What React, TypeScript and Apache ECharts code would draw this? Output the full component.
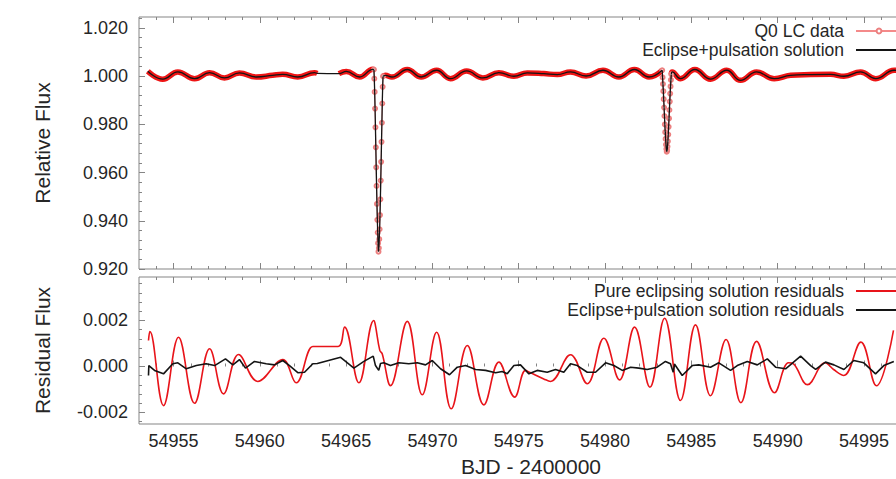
import React, { useEffect, useRef } from 'react';
import * as echarts from 'echarts';

// ---------- axes ----------
const X_MIN = 54953;
const X_MAX = 54998.42;
const X_MAJOR = [54955, 54960, 54965, 54970, 54975, 54980, 54985, 54990, 54995];
const Y_TOP_MIN = 0.92;
const Y_TOP_MAX = 1.0246;
const Y_TOP_MAJOR = [0.92, 0.94, 0.96, 0.98, 1.0, 1.02];
const Y_BOT_MIN = -0.0025;
const Y_BOT_MAX = 0.00389;
const Y_BOT_MAJOR = [-0.002, 0, 0.002];

// ---------- top panel: Q0 LC data (out of eclipse segments) ----------
const LC_SEG1_T = [54953.51, 54954.38, 54955.25, 54956.22, 54957.09, 54957.95, 54958.82, 54959.79, 54960.74, 54961.32, 54962.2, 54963.17, 54963.33];
const LC_SEG1_F = [1.0021, 0.9988, 1.0018, 0.999, 1.0015, 0.9993, 1.0014, 0.9997, 1.0004, 1.0008, 0.9997, 1.0015, 1.0012];
const LC_SEG2_T = [54964.58, 54965.01, 54965.78, 54966.55, 54966.61];
const LC_SEG2_F = [1.0011, 1.002, 0.9997, 1.0029, 1.0028];
const LC_SEG3_T = [54967.138, 54967.27, 54967.65, 54968.54, 54969.35, 54970.24, 54971.05, 54971.98, 54972.92, 54973.85, 54974.72, 54975.49, 54976.45, 54977.23, 54978.0, 54978.9, 54979.88, 54980.8, 54981.7, 54982.55, 54983.31];
const LC_SEG3_F = [1.0, 1.0004, 0.9997, 1.0028, 0.9997, 1.0025, 0.999, 1.0022, 0.9993, 1.0015, 1.0, 1.0014, 1.0011, 1.0007, 1.0018, 1.0001, 1.0025, 0.9997, 1.0028, 0.9997, 1.0025];
const LC_SEG4_T = [54983.838, 54983.89, 54984.37, 54985.2, 54986.11, 54987.05, 54987.85, 54988.78, 54989.8, 54990.75, 54991.91, 54993.07, 54993.84, 54994.8, 54995.68, 54996.75, 54997.3];
const LC_SEG4_F = [1.0008, 1.0018, 0.999, 1.0028, 0.9988, 1.0025, 0.9983, 1.0018, 0.999, 1.0004, 1.0007, 1.0008, 1.0, 1.0018, 0.999, 1.0025, 1.0016];

// eclipses (individual cadences)
const ECL1_T = [54966.61, 54966.632, 54966.654, 54966.676, 54966.698, 54966.72, 54966.742, 54966.764, 54966.786, 54966.808, 54966.83, 54966.852, 54966.874, 54966.896, 54966.918, 54966.94, 54966.962, 54966.984, 54967.006, 54967.028, 54967.05, 54967.072, 54967.094, 54967.116, 54967.138];
const ECL1_F = [1.0028, 0.999, 0.9935, 0.9866, 0.9788, 0.9705, 0.9622, 0.9545, 0.947, 0.9404, 0.9351, 0.9307, 0.9272, 0.9287, 0.9324, 0.9365, 0.9424, 0.9489, 0.9567, 0.9645, 0.9728, 0.9807, 0.9887, 0.9956, 1.0];
const ECL2_T = [54983.31, 54983.332, 54983.354, 54983.376, 54983.398, 54983.42, 54983.442, 54983.464, 54983.486, 54983.508, 54983.53, 54983.552, 54983.574, 54983.596, 54983.618, 54983.64, 54983.662, 54983.684, 54983.706, 54983.728, 54983.75, 54983.772, 54983.794, 54983.816, 54983.838];
const ECL2_F = [1.0025, 0.9995, 0.9968, 0.9938, 0.9905, 0.987, 0.9835, 0.98, 0.9768, 0.974, 0.9716, 0.9698, 0.9687, 0.9692, 0.9708, 0.973, 0.9758, 0.979, 0.9825, 0.986, 0.9895, 0.9928, 0.9958, 0.9985, 1.0008];

// ---------- bottom panel: residuals ----------
const RES_PURE_T = [54953.55, 54953.63, 54954.42, 54955.29, 54956.22, 54957.09, 54957.9, 54958.77, 54959.88, 54961.33, 54962.11, 54963.07, 54963.33, 54964.54, 54964.91, 54965.74, 54966.6, 54966.68, 54966.95, 54967.09, 54967.57, 54968.54, 54969.41, 54970.24, 54971.09, 54972.02, 54972.98, 54973.85, 54974.76, 54975.39, 54975.62, 54976.45, 54976.84, 54978.0, 54978.97, 54979.93, 54980.84, 54981.71, 54982.6, 54983.45, 54984.37, 54985.24, 54986.11, 54987.01, 54987.87, 54988.78, 54989.82, 54990.63, 54990.92, 54991.73, 54992.75, 54993.24, 54993.83, 54994.82, 54995.72, 54996.71];
const RES_PURE_V = [0.00113, 0.00152, -0.0017, 0.00127, -0.0016, 0.00077, -0.00119, 0.00052, -0.00065, 0.0003, -0.00071, 0.00087, 0.00087, 0.00087, 0.00171, -0.00071, 0.002, 0.00185, 0.0007, 0.00055, -0.00083, 0.00196, -0.00123, 0.00149, -0.00184, 0.00091, -0.00167, 0.00019, -0.00133, -0.00017, -0.00025, -0.00054, -0.00065, 0.00051, -0.00075, 0.00123, -0.00058, 0.00171, -0.0009, 0.0021, -0.00148, 0.00181, -0.00127, 0.00117, -0.00157, 0.00109, -0.00114, 0.00016, 0.00011, -0.00079, 0.00016, -0.00013, -0.00039, 0.00106, -0.00084, 0.00157];

const RES_FULL_T = [54953.55, 54953.57, 54953.9, 54954.42, 54954.96, 54955.25, 54955.74, 54956.32, 54956.89, 54957.38, 54958.01, 54958.44, 54958.82, 54959.17, 54959.69, 54960.37, 54960.85, 54961.33, 54961.72, 54962.2, 54962.59, 54963.07, 54963.33, 54964.68, 54965.45, 54966.03, 54966.57, 54966.7, 54966.89, 54966.99, 54967.18, 54967.57, 54968.05, 54968.63, 54969.12, 54969.6, 54969.99, 54970.47, 54970.99, 54971.44, 54971.92, 54972.5, 54973.08, 54973.66, 54974.04, 54974.33, 54974.72, 54975.1, 54975.59, 54976.07, 54976.65, 54977.13, 54977.61, 54978.0, 54978.39, 54978.97, 54979.45, 54980.03, 54980.51, 54981.0, 54981.48, 54981.96, 54982.44, 54983.02, 54983.5, 54983.79, 54983.95, 54984.03, 54984.47, 54985.05, 54985.43, 54986.11, 54986.59, 54987.27, 54987.66, 54988.24, 54988.82, 54989.4, 54989.88, 54990.46, 54991.33, 54991.91, 54992.2, 54992.77, 54993.26, 54993.84, 54994.41, 54994.99, 54995.67, 54996.15, 54996.73];
const RES_FULL_V = [-0.00039, 0.00004, -0.00017, -0.00032, 0.00012, 0.00016, -0.0001, 0.00004, 0.00012, 0.00004, 0.00033, 0.00007, 0.0003, -0.00007, 0.00022, 0.00012, 0.00007, 0.00026, 0.00004, -0.00027, -0.00025, 0.00012, 0.00013, 0.0004, -0.00007, 0.00022, 0.00045, 0.00004, -0.00017, 0.00013, 0.00016, 0.00004, 0.00016, 0.00012, 0.00016, 0.00007, 0.00026, -0.0001, -0.00036, -0.00003, 0.00004, -0.00013, -0.00017, -0.00027, -0.00022, -0.00032, 0.00004, 0.00007, -0.00032, -0.00017, -0.00025, -0.00013, -0.00025, 0.00012, 0.00004, -0.00025, -0.00025, 0.00016, 0.00004, -0.00017, -0.00003, -0.00007, -0.00013, -0.00003, 0.00022, 0.00012, -0.00025, 0.0001, -0.00039, 0.00004, 0.00007, -0.00003, 0.00016, -0.00017, 0.00004, 0.00022, 0.00007, 0.00033, -0.00003, -0.0001, 0.00045, 0.00004, -0.00013, 0.00019, 0.00007, -0.00013, 0.00026, 0.00016, -0.00032, 0.00004, 0.00022];

// ---------- helpers ----------
const FONT = 'Liberation Sans';
const TXT = '#262626';
const AX = '#858585';
const RED = '#e8141a';
const BLACK = '#141414';

const pairs = (t: number[], v: number[]) => t.map((x, i) => [x, v[i]]);
const gap = (x: number) => [x, '-'];

const xMinor: number[] = [];
for (let d = 54954; d < 54999; d++) if (d % 5 !== 0) xMinor.push(d);
const yTopMinor: number[] = [];
for (let j = 1; j < 27; j++) if (j % 5 !== 0) yTopMinor.push(Math.round((0.92 + 0.004 * j) * 10000) / 10000);
const yBotMinor: number[] = [];
for (let j = -6; j <= 9; j++) if (j % 5 !== 0) yBotMinor.push(Math.round(j * 4) / 10000);

function xAx(g: number, pos: string, ticks: number[], len: number, extra: any = {}) {
  return {
    type: 'value', gridIndex: g, position: pos, min: X_MIN, max: X_MAX,
    axisLine: { show: false }, splitLine: { show: false },
    axisTick: { show: true, inside: true, length: len, customValues: ticks, lineStyle: { color: AX } },
    axisLabel: { show: false },
    ...extra,
  };
}
function yAx(g: number, min: number, max: number, ticks: number[], len: number, extra: any = {}) {
  return {
    type: 'value', gridIndex: g, position: 'left', min, max,
    axisLine: { show: false }, splitLine: { show: false },
    axisTick: { show: true, inside: true, length: len, customValues: ticks, lineStyle: { color: AX } },
    axisLabel: { show: false },
    ...extra,
  };
}

const labelStyle = { fontSize: 18, color: TXT, fontFamily: FONT };
const nameStyle = { fontSize: 21, color: TXT, fontFamily: FONT };
const legendText = { fontSize: 17.5, color: TXT, fontFamily: FONT, lineHeight: 17, padding: [0, 7, 0, 0] };
const noSym = { opacity: 0 };

const option: any = {
  animation: false,
  backgroundColor: '#ffffff',
  grid: [
    { left: 139, top: 17, width: 784, height: 252, show: true, borderColor: AX, borderWidth: 1 },
    { left: 139, top: 277, width: 784, height: 147, show: true, borderColor: AX, borderWidth: 1 },
  ],
  xAxis: [
    xAx(0, 'bottom', X_MAJOR, 6),
    xAx(0, 'bottom', xMinor, 3),
    xAx(0, 'top', X_MAJOR, 6),
    xAx(0, 'top', xMinor, 3),
    xAx(1, 'bottom', X_MAJOR, 6, {
      axisLabel: { show: true, customValues: X_MAJOR, margin: 8, ...labelStyle, formatter: (v: number) => String(v) },
      name: 'BJD - 2400000', nameLocation: 'middle', nameGap: 32, nameTextStyle: nameStyle,
    }),
    xAx(1, 'bottom', xMinor, 3),
    xAx(1, 'top', X_MAJOR, 6),
    xAx(1, 'top', xMinor, 3),
  ],
  yAxis: [
    yAx(0, Y_TOP_MIN, Y_TOP_MAX, Y_TOP_MAJOR, 6, {
      axisLabel: { show: true, customValues: Y_TOP_MAJOR, margin: 11, ...labelStyle, formatter: (v: number) => v.toFixed(3) },
      name: 'Relative Flux', nameLocation: 'middle', nameGap: 86, nameTextStyle: nameStyle,
    }),
    yAx(0, Y_TOP_MIN, Y_TOP_MAX, yTopMinor, 3),
    yAx(1, Y_BOT_MIN, Y_BOT_MAX, Y_BOT_MAJOR, 6, {
      axisLabel: { show: true, customValues: Y_BOT_MAJOR, margin: 11, ...labelStyle, formatter: (v: number) => v.toFixed(3) },
      name: 'Residual Flux', nameLocation: 'middle', nameGap: 86, nameTextStyle: nameStyle,
    }),
    yAx(1, Y_BOT_MIN, Y_BOT_MAX, yBotMinor, 3),
  ],
  legend: [
    {
      data: [
        { name: 'Q0 LC data' },
        { name: 'Eclipse+pulsation solution', itemStyle: noSym },
      ],
      orient: 'vertical', align: 'right', right: 22, top: 17,
      itemWidth: 46, itemHeight: 6, itemGap: 1, selectedMode: false,
      textStyle: legendText,
    },
    {
      data: [
        { name: 'Pure eclipsing solution residuals', itemStyle: noSym },
        { name: 'Eclipse+pulsation solution residuals', itemStyle: noSym },
      ],
      orient: 'vertical', align: 'right', right: 22, top: 277,
      itemWidth: 46, itemHeight: 6, itemGap: 1, selectedMode: false,
      textStyle: legendText,
    },
  ],
  series: [
    {
      name: 'Q0 LC data', type: 'line', xAxisIndex: 0, yAxisIndex: 0,
      data: [...pairs(ECL1_T, ECL1_F), gap(54975), ...pairs(ECL2_T, ECL2_F)],
      symbol: 'emptyCircle', symbolSize: 4, showSymbol: true,
      lineStyle: { color: '#f48a8a', width: 1 },
      itemStyle: { color: '#ec8080', borderColor: '#e87070', borderWidth: 1 },
      z: 2,
    },
    {
      name: 'Q0 LC data', type: 'line', xAxisIndex: 0, yAxisIndex: 0,
      data: [
        ...pairs(LC_SEG1_T, LC_SEG1_F), gap(54964),
        ...pairs(LC_SEG2_T, LC_SEG2_F), gap(54966.9),
        ...pairs(LC_SEG3_T, LC_SEG3_F), gap(54983.6),
        ...pairs(LC_SEG4_T, LC_SEG4_F),
      ],
      symbol: 'none', smooth: 0.45,
      lineStyle: { color: '#ee1515', width: 5.5 },
      z: 1,
    },
    {
      name: 'Eclipse+pulsation solution', type: 'line', xAxisIndex: 0, yAxisIndex: 0,
      data: [
        ...pairs(LC_SEG1_T, LC_SEG1_F),
        ...pairs(LC_SEG2_T, LC_SEG2_F), gap(54966.9),
        ...pairs(LC_SEG3_T, LC_SEG3_F), gap(54983.6),
        ...pairs(LC_SEG4_T, LC_SEG4_F),
      ],
      symbol: 'none', smooth: 0.45,
      lineStyle: { color: BLACK, width: 1.3 },
      itemStyle: { color: BLACK },
      z: 3,
    },
    {
      name: 'Eclipse+pulsation solution', type: 'line', xAxisIndex: 0, yAxisIndex: 0,
      data: [...pairs(ECL1_T, ECL1_F), gap(54975), ...pairs(ECL2_T, ECL2_F)],
      symbol: 'none',
      lineStyle: { color: BLACK, width: 1.3 },
      itemStyle: { color: BLACK },
      z: 3,
    },
    {
      name: 'Pure eclipsing solution residuals', type: 'line', xAxisIndex: 4, yAxisIndex: 2,
      data: pairs(RES_PURE_T, RES_PURE_V),
      symbol: 'none', smooth: 0.4,
      lineStyle: { color: RED, width: 1.6 },
      itemStyle: { color: RED },
      z: 2,
    },
    {
      name: 'Eclipse+pulsation solution residuals', type: 'line', xAxisIndex: 4, yAxisIndex: 2,
      data: pairs(RES_FULL_T, RES_FULL_V),
      symbol: 'none',
      lineStyle: { color: BLACK, width: 1.6 },
      itemStyle: { color: BLACK },
      z: 3,
    },
  ],
};

export default function App() {
  const ref = useRef<HTMLDivElement>(null);
  useEffect(() => {
    document.body.style.margin = '0';
    const chart = echarts.init(ref.current as HTMLDivElement, null, { renderer: 'svg' });
    chart.setOption(option);
    return () => chart.dispose();
  }, []);
  return (
    <div style={{ position: 'absolute', left: 0, top: 0, width: 896, height: 479, overflow: 'hidden', background: '#fff' }}>
      <div ref={ref} style={{ width: 930, height: 479 }} />
    </div>
  );
}
